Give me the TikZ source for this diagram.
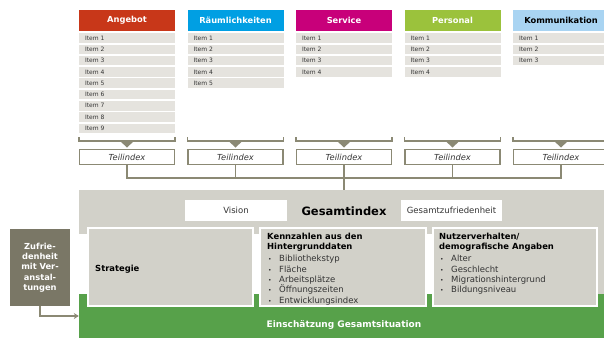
\documentclass[tikz,border=0pt]{standalone}
\usepackage{fontspec}
\setmainfont{DejaVu Sans}
\usetikzlibrary{arrows.meta}
\definecolor{cAng}{HTML}{C83719}
\definecolor{cRaum}{HTML}{009FE3}
\definecolor{cServ}{HTML}{C8007A}
\definecolor{cPers}{HTML}{9BC23C}
\definecolor{cKomm}{HTML}{A9D4F2}
\definecolor{cItem}{HTML}{E5E3DE}
\definecolor{cBr}{HTML}{8B8974}
\definecolor{cBand}{HTML}{D2D1C9}
\definecolor{cGreen}{HTML}{57A14A}
\definecolor{cOlive}{HTML}{7A7766}
\definecolor{cTxt}{HTML}{333333}
\newcommand\myfs[2]{\fontsize{#1}{#2}\selectfont}
\begin{document}
\begin{tikzpicture}[x=1pt,y=-1pt,
  hdr/.style={minimum width=96pt,minimum height=21pt,inner sep=0pt,font=\bfseries\myfs{8.3}{10}},
  itembox/.style={fill=cItem,minimum height=9.5pt,inner ysep=0pt,inner xsep=6pt,text width=84pt,align=left,font=\myfs{6}{7},text=cTxt},
  brk/.style={draw=cBr,line width=1.3pt},
  tibox/.style={draw=cBr,line width=1.3pt,fill=white,minimum width=95pt,minimum height=15pt,inner sep=0pt,font=\itshape\myfs{8.3}{10},text=cTxt},
  conn/.style={draw=cBr,line width=1.2pt},
  wbox/.style={fill=white,minimum height=21pt,inner sep=0pt,font=\myfs{8.5}{10},text=cTxt},
  inbox/.style={fill=cBand,draw=white,line width=2pt,minimum height=78pt,inner sep=0pt},
  hd/.style={font=\bfseries\myfs{8.4}{10.3},text=black,inner sep=0pt},
  txt/.style={font=\myfs{8.5}{10.3},text=cTxt,inner sep=0pt},
  bul/.style={font=\myfs{6}{8},text=cTxt,inner sep=0pt}]
\useasboundingbox (0,0) rectangle (604,338);
\clip (0,0) rectangle (604,338);

% columns
\foreach \c/\n/\col/\lab/\tc [count=\k] in {79/9/cAng/Angebot/white, 187.5/5/cRaum/Räumlichkeiten/white, 296/4/cServ/Service/white, 404.5/4/cPers/Personal/white, 513/3/cKomm/Kommunikation/black}{
  \node[hdr,fill=\col,text=\tc] (h\k) at (\c+48,20.5) {\lab};
  \foreach \i in {1,...,\n}{
    \node[itembox] (i\k-\i) at (\c+48,{38+11.3*(\i-1)}) {Item \i};
  }
  \draw[brk] (\c,137) -- (\c,141) -- (\c+96,141) -- (\c+96,137);
  \fill[cBr] (\c+41,141) -- (\c+55,141) -- (\c+48,147.5) -- cycle;
  \node[tibox] (t\k) at (\c+48,157) {Teilindex};
}

% bands
\node[fill=cBand,minimum width=525pt,minimum height=44pt,inner sep=0pt] (gi) at (341.5,212) {};
\node[fill=cGreen,minimum width=525pt,minimum height=44pt,inner sep=0pt] (eg) at (341.5,316) {};
\fill[cBand] (598,234) rectangle (604,294);

% connectors
\coordinate (busy) at (0,178);
\draw[conn] (t1.south) |- (t5.south |- busy) -- (t5.south);
\draw[conn] (t2.south) -- (t2.south |- busy);
\draw[conn] (t4.south) -- (t4.south |- busy);
\draw[conn] (t3.south) -- (t3.south |- gi.north);

% Gesamtindex row
\node[wbox,minimum width=102pt] (vis) at (236,210.5) {Vision};
\node[wbox,minimum width=101pt] (gz) at (451.5,210.5) {Gesamtzufriedenheit};
\node[font=\bfseries\myfs{11.5}{13},anchor=base,inner sep=0pt] (gt) at (344,215.5) {Gesamtindex};

% inner boxes
\node[inbox,minimum width=165pt] (s1) at (170.5,267) {};
\node[inbox,minimum width=166pt] (s2) at (343,267) {};
\node[inbox,minimum width=164pt] (s3) at (515,267) {};

\node[hd,anchor=base west] (st) at (95,271) {Strategie};

\node[hd,anchor=base west] (kh1) at (267,239) {Kennzahlen aus den};
\node[hd,anchor=base west] (kh2) at (267,249.3) {Hintergrunddaten};
\foreach \t [count=\j] in {Bibliothekstyp,Fläche,Arbeitsplätze,Öffnungszeiten,Entwicklungsindex}{
  \node[bul,anchor=base west] (kb\j) at (268,{261.8+10.3*(\j-1)}) {\textbullet};
  \node[txt,anchor=base west] (kt\j) at (279,{261.8+10.3*(\j-1)}) {\t};
}

\node[hd,anchor=base west] (nh1) at (439,239) {Nutzerverhalten/};
\node[hd,anchor=base west] (nh2) at (439,249.3) {demografische Angaben};
\foreach \t [count=\j] in {Alter,Geschlecht,Migrationshintergrund,Bildungsniveau}{
  \node[bul,anchor=base west] (nb\j) at (440,{261.8+10.3*(\j-1)}) {\textbullet};
  \node[txt,anchor=base west] (nt\j) at (451,{261.8+10.3*(\j-1)}) {\t};
}

\node[font=\bfseries\myfs{9}{11},text=white,anchor=base,inner sep=0pt] (et) at (344,327.5) {Einschätzung Gesamtsituation};

% left box
\node[fill=cOlive,text=white,font=\bfseries\myfs{8.3}{10.3},align=center,minimum width=60pt,minimum height=77pt,inner sep=0pt] (zb) at (40,267.5) {Zufrie-\\denheit\\mit Ver-\\anstal-\\tungen};
\draw[conn,-{Stealth[length=5pt,width=6pt]}] (zb.south) |- (eg.west);
\end{tikzpicture}
\end{document}
